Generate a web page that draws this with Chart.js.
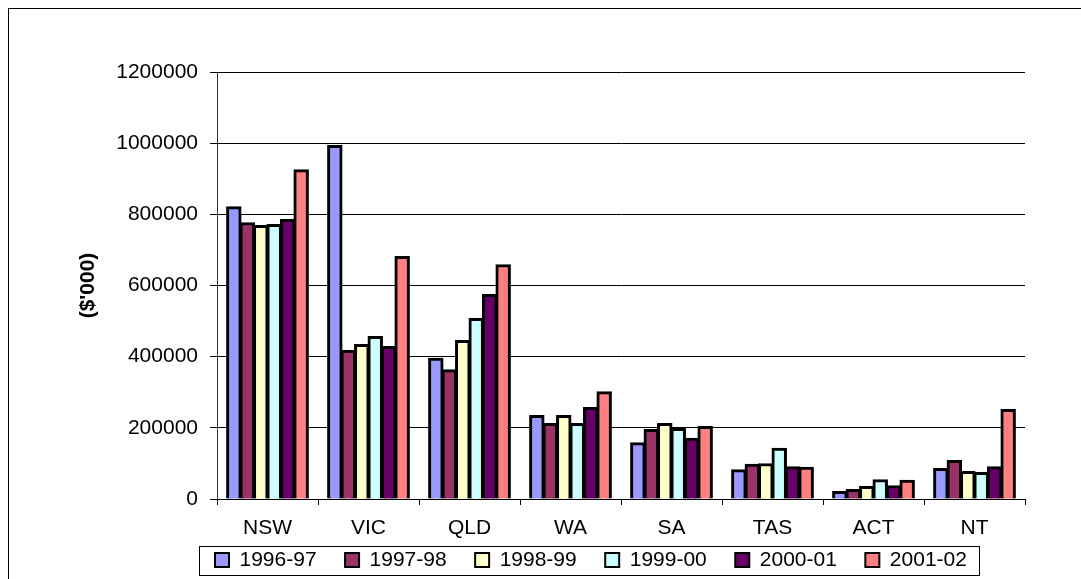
<!DOCTYPE html>
<html lang="en">
  <head>
    <meta charset="UTF-8" />
    <title>Expenditure by State ($'000)</title>
    <script src="https://cdn.jsdelivr.net/npm/chart.js"></script>
    <style>
      html, body {
        margin: 0;
        padding: 0;
        background: #fff;
        overflow: hidden;
      }
      .frame {
        position: absolute;
        left: 8px;
        top: 8px;
        width: 1200px;
        height: 700px;
        border: 1px solid #000;
        box-sizing: border-box;
      }
      #chart {
        position: absolute;
        left: 0;
        top: 0;
      }
    </style>
  </head>
  <body>
    <div class="frame"></div>
    <canvas id="chart" width="1081" height="579"></canvas>

    <script>
      // States along the x axis
      const states = ["NSW", "VIC", "QLD", "WA", "SA", "TAS", "ACT", "NT"];

      // Financial years (one series each)
      const years = ["1996-97", "1997-98", "1998-99", "1999-00", "2000-01", "2001-02"];

      // Values in $'000
      const fy1996 = [820000, 992000, 394000, 233000, 157000, 81000, 20000, 84000];
      const fy1997 = [775000, 416000, 362000, 211000, 194000, 96000, 25000, 107000];
      const fy1998 = [767000, 433000, 444000, 233000, 211000, 98000, 34000, 76000];
      const fy1999 = [770000, 455000, 506000, 211000, 197000, 141000, 53000, 73000];
      const fy2000 = [784000, 427000, 573000, 256000, 169000, 89000, 36000, 89000];
      const fy2001 = [924000, 680000, 657000, 300000, 202000, 88000, 51000, 250000];

      // y axis ticks
      const yTicks = [0, 200000, 400000, 600000, 800000, 1000000, 1200000];

      const seriesValues = [fy1996, fy1997, fy1998, fy1999, fy2000, fy2001];
      const seriesColors = ["#9999FF", "#993366", "#FFFFCC", "#CCFFFF", "#660066", "#FF8080"];

      Chart.defaults.font.family = "'Liberation Sans', Arial, sans-serif";
      Chart.defaults.font.size = 21;
      Chart.defaults.color = "#000";

      const datasets = years.map((year, i) => ({
        label: year,
        data: seriesValues[i],
        backgroundColor: seriesColors[i],
        borderColor: "#000",
        borderWidth: 3,
        borderSkipped: "bottom",
        inflateAmount: 1,
        categoryPercentage: 0.8,
        barPercentage: 1.0
      }));

      // move the legend to where it sits in the original and box it in
      const legendPlacement = {
        id: "legendPlacement",
        afterLayout(chart) {
          chart.legend.left = 186.5;
          chart.legend.top = 521;
        },
        afterDraw(chart) {
          const boxes = chart.legend.legendHitBoxes;
          if (!boxes || !boxes.length) return;
          const first = boxes[0];
          const last = boxes[boxes.length - 1];
          const ctx = chart.ctx;
          ctx.save();
          ctx.strokeStyle = "#000";
          ctx.lineWidth = 1;
          ctx.strokeRect(
            Math.round(first.left - 16) + 0.5,
            Math.round(first.top - 4) + 0.5,
            Math.round(last.left + last.width + 12 - (first.left - 16)),
            Math.round(first.height + 8)
          );
          ctx.restore();
        }
      };

      new Chart(document.getElementById("chart"), {
        type: "bar",
        data: { labels: states, datasets: datasets },
        plugins: [legendPlacement],
        options: {
          responsive: false,
          devicePixelRatio: 1,
          animation: false,
          layout: { padding: { top: 72, right: 56, bottom: 0, left: 0 } },
          scales: {
            x: {
              grid: {
                offset: true,
                drawOnChartArea: false,
                color: "#000",
                tickLength: 6
              },
              border: { color: "#000", width: 1 },
              ticks: { padding: 11, font: { size: 21 } },
              afterFit: scale => {
                scale.height = 46;
              }
            },
            y: {
              min: 0,
              max: 1200000,
              afterBuildTicks: scale => {
                scale.ticks = yTicks.map(v => ({ value: v }));
              },
              grid: { color: "#000", lineWidth: 1, tickLength: 7 },
              border: { color: "#333", width: 1 },
              ticks: {
                padding: 12,
                font: { size: 21 },
                callback: v => String(v)
              },
              title: {
                display: true,
                text: "($'000)",
                font: { size: 21, weight: "bold" },
                padding: { top: 76, bottom: 0 }
              },
              afterFit: scale => {
                scale.width = 217;
              }
            }
          },
          plugins: {
            legend: {
              position: "bottom",
              align: "start",
              maxHeight: 34,
              labels: {
                boxWidth: 14,
                boxHeight: 14,
                padding: 28.5,
                font: { size: 21 },
                generateLabels: chart => {
                  const items = Chart.defaults.plugins.legend.labels.generateLabels(chart);
                  items.forEach(item => {
                    item.lineWidth = 2;
                    item.strokeStyle = "#000";
                  });
                  return items;
                }
              }
            },
            tooltip: { enabled: false }
          }
        }
      });
    </script>
  </body>
</html>
